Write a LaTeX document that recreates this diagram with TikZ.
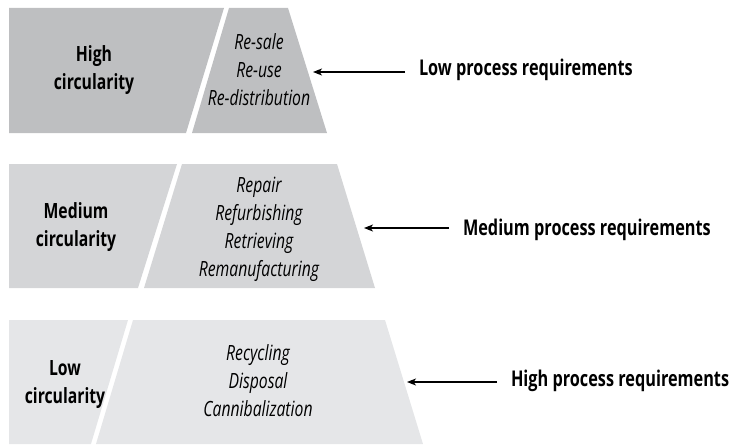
\documentclass[tikz,border=0pt]{standalone}
\usepackage{fontspec}
\setmainfont[FakeStretch=0.75]{Open Sans}
\usetikzlibrary{arrows.meta}
\definecolor{tierA}{RGB}{190,191,193}
\definecolor{tierB}{RGB}{212,213,215}
\definecolor{tierC}{RGB}{229,230,232}

\begin{document}
\begin{tikzpicture}[x=1pt,y=-1pt,
    level/.style={font=\bfseries\fontsize{21}{28}\selectfont, align=center},
    acts/.style={font=\itshape\fontsize{21}{28}\selectfont, align=center},
    req/.style={font=\bfseries\fontsize{21.7}{28}\selectfont, anchor=base west, inner sep=0pt, outer xsep=14pt},
    arr/.style={-{Stealth[length=9pt,width=7pt,inset=2.5pt]}, line width=1.1pt}]
    \useasboundingbox (0,0) rectangle (735,444);
    % high circularity
    \fill[tierA] (9,8) -- (224,8) -- (186,133) -- (9,133) -- cycle;
    \fill[tierA] (229,8) -- (288,8) -- (327,133) -- (192,133) -- cycle;
    \node[level] (high) at (94,70) {High\\circularity};
    \node[acts] (reuse) at (259,70) {Re-sale\\Re-use\\Re-distribution};
    \coordinate (tipA) at (313,72);
    \node[req] (lowreq) at (405,75) {Low process requirements};
    \draw[arr] (lowreq.west |- tipA) -- (tipA);
    % medium circularity
    \fill[tierB] (9,164) -- (177,164) -- (138,288) -- (9,288) -- cycle;
    \fill[tierB] (182,164) -- (337,164) -- (375,288) -- (144,288) -- cycle;
    \node[level] (medium) at (76,227) {Medium\\circularity};
    \node[acts] (repair) at (259,229) {Repair\\Refurbishing\\Retrieving\\Remanufacturing};
    \coordinate (tipB) at (364,228);
    \node[req] (medreq) at (449,235) {Medium process requirements};
    \draw[arr] (medreq.west |- tipB) -- (tipB);
    % low circularity
    \fill[tierC] (9,320) -- (128,320) -- (91,444) -- (9,444) -- cycle;
    \fill[tierC] (133,320) -- (385,320) -- (423,444) -- (96,444) -- cycle;
    \node[level] (low) at (65,385) {Low\\circularity};
    \node[acts] (recycle) at (258,381) {Recycling\\Disposal\\Cannibalization};
    \coordinate (tipC) at (407,382);
    \node[req] (highreq) at (497,386) {High process requirements};
    \draw[arr] (highreq.west |- tipC) -- (tipC);
\end{tikzpicture}
\end{document}
